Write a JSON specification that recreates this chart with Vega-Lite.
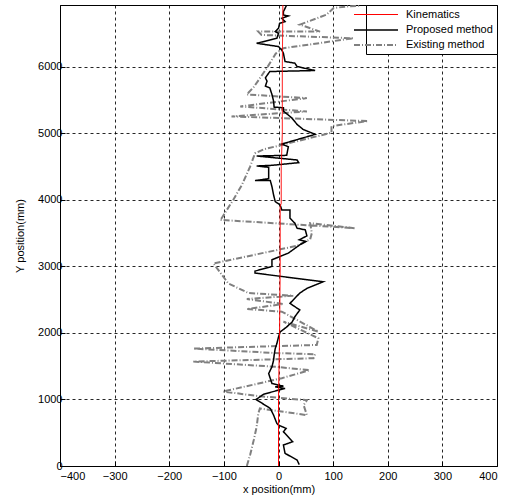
{
  "$schema": "https://vega.github.io/schema/vega-lite/v6.json",
  "width": 437,
  "height": 461,
  "autosize": {"type": "none"},
  "padding": {"left": 60, "top": 5, "right": 10, "bottom": 36},
  "config": {
    "font": "Liberation Sans",
    "view": {"stroke": "#000", "strokeWidth": 1},
    "axis": {
      "domainColor": "#000",
      "grid": true,
      "gridColor": "#000",
      "gridDash": [3, 3],
      "gridOpacity": 0.85,
      "tickColor": "#000",
      "tickSize": -5,
      "labelFont": "Liberation Sans",
      "labelFontSize": 11,
      "labelColor": "#000",
      "titleFont": "Liberation Sans",
      "titleFontSize": 11,
      "titleFontWeight": "normal",
      "titleColor": "#000"
    },
    "legend": {
      "orient": "top-right",
      "offset": 0,
      "fillColor": "#fff",
      "strokeColor": "#000",
      "padding": 4,
      "labelFont": "Liberation Sans",
      "labelFontSize": 11,
      "labelColor": "#000",
      "symbolType": "M-4.4,0H4.4",
      "symbolSize": 100,
      "labelOffset": 24,
      "rowPadding": 4,
      "title": null
    }
  },
  "data": {
    "values": [
      {"s": "Kinematics", "i": 0, "x": 0, "y": 0},
      {"s": "Kinematics", "i": 1, "x": 0, "y": 1000},
      {"s": "Kinematics", "i": 2, "x": 2, "y": 2000},
      {"s": "Kinematics", "i": 3, "x": 3, "y": 3000},
      {"s": "Kinematics", "i": 4, "x": 3, "y": 3900},
      {"s": "Kinematics", "i": 5, "x": 5, "y": 3950},
      {"s": "Kinematics", "i": 6, "x": 5, "y": 4500},
      {"s": "Kinematics", "i": 7, "x": 7, "y": 5000},
      {"s": "Kinematics", "i": 8, "x": 7, "y": 6000},
      {"s": "Kinematics", "i": 9, "x": 8, "y": 6930},

      {"s": "Proposed method", "i": 0, "x": 38, "y": 20},
      {"s": "Proposed method", "i": 1, "x": 34, "y": 90},
      {"s": "Proposed method", "i": 2, "x": 12, "y": 190},
      {"s": "Proposed method", "i": 3, "x": 9, "y": 315},
      {"s": "Proposed method", "i": 4, "x": 26, "y": 365},
      {"s": "Proposed method", "i": 5, "x": 9, "y": 515},
      {"s": "Proposed method", "i": 6, "x": 14, "y": 565},
      {"s": "Proposed method", "i": 7, "x": 0, "y": 615},
      {"s": "Proposed method", "i": 8, "x": -3, "y": 640},
      {"s": "Proposed method", "i": 9, "x": -9, "y": 765},
      {"s": "Proposed method", "i": 10, "x": -15, "y": 865},
      {"s": "Proposed method", "i": 11, "x": -41, "y": 1000},
      {"s": "Proposed method", "i": 12, "x": -27, "y": 1080},
      {"s": "Proposed method", "i": 13, "x": 0, "y": 1140},
      {"s": "Proposed method", "i": 14, "x": 12, "y": 1165},
      {"s": "Proposed method", "i": 15, "x": -6, "y": 1190},
      {"s": "Proposed method", "i": 16, "x": 9, "y": 1200},
      {"s": "Proposed method", "i": 17, "x": -12, "y": 1240},
      {"s": "Proposed method", "i": 18, "x": -15, "y": 1315},
      {"s": "Proposed method", "i": 19, "x": -18, "y": 1390},
      {"s": "Proposed method", "i": 20, "x": -12, "y": 1490},
      {"s": "Proposed method", "i": 21, "x": -9, "y": 1590},
      {"s": "Proposed method", "i": 22, "x": -8, "y": 1665},
      {"s": "Proposed method", "i": 23, "x": -6, "y": 1765},
      {"s": "Proposed method", "i": 24, "x": -3, "y": 1840},
      {"s": "Proposed method", "i": 25, "x": 0, "y": 1940},
      {"s": "Proposed method", "i": 26, "x": 3, "y": 2015},
      {"s": "Proposed method", "i": 27, "x": 15, "y": 2090},
      {"s": "Proposed method", "i": 28, "x": 25, "y": 2165},
      {"s": "Proposed method", "i": 29, "x": 30, "y": 2245},
      {"s": "Proposed method", "i": 30, "x": 39, "y": 2345},
      {"s": "Proposed method", "i": 31, "x": 21, "y": 2445},
      {"s": "Proposed method", "i": 32, "x": 39, "y": 2600},
      {"s": "Proposed method", "i": 33, "x": 52, "y": 2670},
      {"s": "Proposed method", "i": 34, "x": 82, "y": 2770},
      {"s": "Proposed method", "i": 35, "x": -43, "y": 2900},
      {"s": "Proposed method", "i": 36, "x": -43, "y": 2930},
      {"s": "Proposed method", "i": 37, "x": -12, "y": 3000},
      {"s": "Proposed method", "i": 38, "x": -12, "y": 3100},
      {"s": "Proposed method", "i": 39, "x": 3, "y": 3150},
      {"s": "Proposed method", "i": 40, "x": 18, "y": 3200},
      {"s": "Proposed method", "i": 41, "x": 39, "y": 3325},
      {"s": "Proposed method", "i": 42, "x": 50, "y": 3375},
      {"s": "Proposed method", "i": 43, "x": 38, "y": 3400},
      {"s": "Proposed method", "i": 44, "x": 52, "y": 3460},
      {"s": "Proposed method", "i": 45, "x": 49, "y": 3550},
      {"s": "Proposed method", "i": 46, "x": 34, "y": 3575},
      {"s": "Proposed method", "i": 47, "x": 30, "y": 3650},
      {"s": "Proposed method", "i": 48, "x": 21, "y": 3725},
      {"s": "Proposed method", "i": 49, "x": 21, "y": 3850},
      {"s": "Proposed method", "i": 50, "x": 6, "y": 3850},
      {"s": "Proposed method", "i": 51, "x": 3, "y": 3925},
      {"s": "Proposed method", "i": 52, "x": -6, "y": 3975},
      {"s": "Proposed method", "i": 53, "x": -9, "y": 4075},
      {"s": "Proposed method", "i": 54, "x": -12, "y": 4200},
      {"s": "Proposed method", "i": 55, "x": -15, "y": 4290},
      {"s": "Proposed method", "i": 56, "x": -43, "y": 4290},
      {"s": "Proposed method", "i": 57, "x": -18, "y": 4320},
      {"s": "Proposed method", "i": 58, "x": -18, "y": 4490},
      {"s": "Proposed method", "i": 59, "x": -40, "y": 4510},
      {"s": "Proposed method", "i": 60, "x": -12, "y": 4520},
      {"s": "Proposed method", "i": 61, "x": 37, "y": 4560},
      {"s": "Proposed method", "i": 62, "x": 34, "y": 4600},
      {"s": "Proposed method", "i": 63, "x": -15, "y": 4640},
      {"s": "Proposed method", "i": 64, "x": -40, "y": 4660},
      {"s": "Proposed method", "i": 65, "x": 15, "y": 4670},
      {"s": "Proposed method", "i": 66, "x": 18, "y": 4800},
      {"s": "Proposed method", "i": 67, "x": 6, "y": 4840},
      {"s": "Proposed method", "i": 68, "x": 67, "y": 4985},
      {"s": "Proposed method", "i": 69, "x": 45, "y": 5060},
      {"s": "Proposed method", "i": 70, "x": 34, "y": 5135},
      {"s": "Proposed method", "i": 71, "x": 24, "y": 5235},
      {"s": "Proposed method", "i": 72, "x": 9, "y": 5335},
      {"s": "Proposed method", "i": 73, "x": 9, "y": 5385},
      {"s": "Proposed method", "i": 74, "x": -8, "y": 5395},
      {"s": "Proposed method", "i": 75, "x": -9, "y": 5485},
      {"s": "Proposed method", "i": 76, "x": -12, "y": 5585},
      {"s": "Proposed method", "i": 77, "x": -16, "y": 5685},
      {"s": "Proposed method", "i": 78, "x": -24, "y": 5710},
      {"s": "Proposed method", "i": 79, "x": -21, "y": 5785},
      {"s": "Proposed method", "i": 80, "x": -24, "y": 5835},
      {"s": "Proposed method", "i": 81, "x": -16, "y": 5930},
      {"s": "Proposed method", "i": 82, "x": 67, "y": 5945},
      {"s": "Proposed method", "i": 83, "x": 34, "y": 6005},
      {"s": "Proposed method", "i": 84, "x": 30, "y": 6055},
      {"s": "Proposed method", "i": 85, "x": 12, "y": 6080},
      {"s": "Proposed method", "i": 86, "x": 9, "y": 6205},
      {"s": "Proposed method", "i": 87, "x": 6, "y": 6255},
      {"s": "Proposed method", "i": 88, "x": 0, "y": 6305},
      {"s": "Proposed method", "i": 89, "x": -40, "y": 6355},
      {"s": "Proposed method", "i": 90, "x": -3, "y": 6430},
      {"s": "Proposed method", "i": 91, "x": 0, "y": 6505},
      {"s": "Proposed method", "i": 92, "x": -6, "y": 6530},
      {"s": "Proposed method", "i": 93, "x": 0, "y": 6580},
      {"s": "Proposed method", "i": 94, "x": 2, "y": 6655},
      {"s": "Proposed method", "i": 95, "x": 12, "y": 6680},
      {"s": "Proposed method", "i": 96, "x": 6, "y": 6730},
      {"s": "Proposed method", "i": 97, "x": 18, "y": 6765},
      {"s": "Proposed method", "i": 98, "x": 9, "y": 6780},
      {"s": "Proposed method", "i": 99, "x": 9, "y": 6830},
      {"s": "Proposed method", "i": 100, "x": 15, "y": 6930},

      {"s": "Existing method", "i": 0, "x": -58, "y": 0},
      {"s": "Existing method", "i": 1, "x": -52, "y": 165},
      {"s": "Existing method", "i": 2, "x": -45, "y": 400},
      {"s": "Existing method", "i": 3, "x": -40, "y": 590},
      {"s": "Existing method", "i": 4, "x": -37, "y": 790},
      {"s": "Existing method", "i": 5, "x": -34, "y": 865},
      {"s": "Existing method", "i": 6, "x": 52, "y": 765},
      {"s": "Existing method", "i": 7, "x": 46, "y": 915},
      {"s": "Existing method", "i": 8, "x": 52, "y": 990},
      {"s": "Existing method", "i": 9, "x": -37, "y": 1050},
      {"s": "Existing method", "i": 10, "x": -101, "y": 1120},
      {"s": "Existing method", "i": 11, "x": 6, "y": 1320},
      {"s": "Existing method", "i": 12, "x": 57, "y": 1440},
      {"s": "Existing method", "i": 13, "x": -3, "y": 1490},
      {"s": "Existing method", "i": 14, "x": -156, "y": 1570},
      {"s": "Existing method", "i": 15, "x": 64, "y": 1620},
      {"s": "Existing method", "i": 16, "x": 67, "y": 1680},
      {"s": "Existing method", "i": 17, "x": -10, "y": 1700},
      {"s": "Existing method", "i": 18, "x": -156, "y": 1765},
      {"s": "Existing method", "i": 19, "x": 70, "y": 1820},
      {"s": "Existing method", "i": 20, "x": 73, "y": 1920},
      {"s": "Existing method", "i": 21, "x": 9, "y": 2170},
      {"s": "Existing method", "i": 22, "x": 73, "y": 2020},
      {"s": "Existing method", "i": 23, "x": 6, "y": 2320},
      {"s": "Existing method", "i": 24, "x": -58, "y": 2360},
      {"s": "Existing method", "i": 25, "x": 9, "y": 2435},
      {"s": "Existing method", "i": 26, "x": -58, "y": 2510},
      {"s": "Existing method", "i": 27, "x": 27, "y": 2560},
      {"s": "Existing method", "i": 28, "x": -55, "y": 2600},
      {"s": "Existing method", "i": 29, "x": -92, "y": 2745},
      {"s": "Existing method", "i": 30, "x": -119, "y": 3045},
      {"s": "Existing method", "i": 31, "x": 34, "y": 3310},
      {"s": "Existing method", "i": 32, "x": 58, "y": 3410},
      {"s": "Existing method", "i": 33, "x": 61, "y": 3500},
      {"s": "Existing method", "i": 34, "x": 58, "y": 3650},
      {"s": "Existing method", "i": 35, "x": 140, "y": 3575},
      {"s": "Existing method", "i": 36, "x": -107, "y": 3700},
      {"s": "Existing method", "i": 37, "x": -104, "y": 3725},
      {"s": "Existing method", "i": 38, "x": -83, "y": 4000},
      {"s": "Existing method", "i": 39, "x": -67, "y": 4225},
      {"s": "Existing method", "i": 40, "x": -52, "y": 4500},
      {"s": "Existing method", "i": 41, "x": -43, "y": 4700},
      {"s": "Existing method", "i": 42, "x": -27, "y": 4760},
      {"s": "Existing method", "i": 43, "x": 97, "y": 5010},
      {"s": "Existing method", "i": 44, "x": 97, "y": 5110},
      {"s": "Existing method", "i": 45, "x": 164, "y": 5185},
      {"s": "Existing method", "i": 46, "x": -86, "y": 5255},
      {"s": "Existing method", "i": 47, "x": 52, "y": 5330},
      {"s": "Existing method", "i": 48, "x": -70, "y": 5405},
      {"s": "Existing method", "i": 49, "x": 52, "y": 5530},
      {"s": "Existing method", "i": 50, "x": -58, "y": 5585},
      {"s": "Existing method", "i": 51, "x": -45, "y": 5700},
      {"s": "Existing method", "i": 52, "x": -34, "y": 5830},
      {"s": "Existing method", "i": 53, "x": -20, "y": 6000},
      {"s": "Existing method", "i": 54, "x": -5, "y": 6200},
      {"s": "Existing method", "i": 55, "x": 9, "y": 6280},
      {"s": "Existing method", "i": 56, "x": 137, "y": 6430},
      {"s": "Existing method", "i": 57, "x": -31, "y": 6480},
      {"s": "Existing method", "i": 58, "x": -37, "y": 6530},
      {"s": "Existing method", "i": 59, "x": 76, "y": 6530},
      {"s": "Existing method", "i": 60, "x": 39, "y": 6635},
      {"s": "Existing method", "i": 61, "x": 88, "y": 6785},
      {"s": "Existing method", "i": 62, "x": 101, "y": 6885},
      {"s": "Existing method", "i": 63, "x": 128, "y": 6910},
      {"s": "Existing method", "i": 64, "x": 150, "y": 6920}
    ]
  },
  "encoding": {
    "x": {
      "field": "x", "type": "quantitative",
      "scale": {"domain": [-400, 400], "nice": false, "zero": false},
      "axis": {"values": [-400, -300, -200, -100, 0, 100, 200, 300, 400], "title": "x position(mm)", "labelPadding": 9, "titlePadding": 2}
    },
    "y": {
      "field": "y", "type": "quantitative",
      "scale": {"domain": [0, 6930], "nice": false, "zero": false},
      "axis": {"values": [0, 1000, 2000, 3000, 4000, 5000, 6000], "format": "d", "title": "Y position(mm)", "labelPadding": 3, "titlePadding": 12}
    },
    "order": {"field": "i", "type": "quantitative"},
    "color": {
      "field": "s", "type": "nominal",
      "scale": {"domain": ["Kinematics", "Proposed method", "Existing method"], "range": ["#ff0000", "#000000", "#808080"]},
      "legend": {"title": null, "encode": {"symbols": {"update": {"stroke": {"scale": "color", "field": "value"}}}}}
    },
    "strokeDash": {
      "field": "s", "type": "nominal",
      "scale": {"domain": ["Kinematics", "Proposed method", "Existing method"], "range": [[1, 0], [1, 0], [6, 2, 1, 2]]},
      "legend": {"title": null}
    },
    "strokeWidth": {
      "field": "s", "type": "nominal",
      "scale": {"domain": ["Kinematics", "Proposed method", "Existing method"], "range": [1, 2, 1.2]},
      "legend": {"title": null}
    }
  },
  "layer": [
    {"transform": [{"filter": "datum.s === 'Existing method'"}], "mark": {"type": "line", "clip": true}},
    {"transform": [{"filter": "datum.s === 'Proposed method'"}], "mark": {"type": "line", "clip": true}},
    {"transform": [{"filter": "datum.s === 'Kinematics'"}], "mark": {"type": "line", "clip": true}}
  ]
}
